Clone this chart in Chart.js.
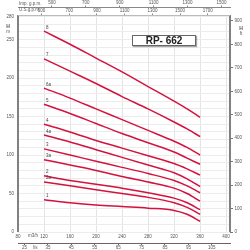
<!DOCTYPE html>
<html lang="en">
<head>
<meta charset="UTF-8">
<title>RP-662 pump curves</title>
<script src="https://cdn.jsdelivr.net/npm/chart.js"></script>
<style>
  html, body { margin: 0; padding: 0; background: #fff; }
  canvas { display: block; }
</style>
</head>
<body>
<canvas id="pumpChart" width="250" height="250"></canvas>
<script>
// flow points (m3/h) shared by every curve
const flowM3h = [120, 160, 200, 240, 280, 320, 340, 360];

// head (m) for each impeller stage
const head8  = [261, 244, 226, 208, 189, 170, 160, 149];
const head7  = [225, 209, 193, 176, 160, 143, 134, 124];
const head6a = [187, 174, 160, 146, 132, 118, 110, 100];
const head5  = [166, 154, 141, 128, 116, 104, 96, 88];
const head4  = [140, 130, 119, 109, 99, 89, 82, 74];
const head4a = [126, 117, 107, 97, 87, 77, 69, 59];
const head3  = [108, 100, 92, 84, 76, 67, 60, 51];
const head3a = [94, 87, 80, 72, 65, 57, 50, 40];
const head2  = [73, 67, 62, 57, 51, 44, 38, 29];
const head2a = [65, 60, 55, 50, 45, 38, 32, 23];
const head1  = [42, 38, 35, 33, 31, 28, 23, 14];

const curveNames = ['8', '7', '6a', '5', '4', '4a', '3', '3a', '2', '2a', '1'];
const curveHeads = [head8, head7, head6a, head5, head4, head4a, head3, head3a, head2, head2a, head1];

// axis tick labels
const flowTicks = [80, 120, 160, 200, 240, 280, 320, 360, 400];
const lsTicks = [25, 35, 45, 55, 65, 75, 85, 95, 105];
const usTicks = [500, 700, 900, 1100, 1300, 1500, 1700];
const impTicks = [500, 700, 900, 1100, 1300, 1500];
const headTicks = [0, 50, 100, 150, 200, 250, 280];
const ftTicks = [0, 100, 200, 300, 400, 500, 600, 700, 800, 900];

const FLOW_MIN = 80, FLOW_MAX = 406;
const HEAD_MAX = 282;
const FONT = '"Liberation Sans", Arial, sans-serif';
const RED = '#d3133f';
const GREY_TXT = '#555';

function fixTicks(values) {
  return scale => { scale.ticks = values.map(v => ({ value: v })); };
}
function fixSize(prop, size) {
  return scale => { scale[prop] = size; };
}
const plain = v => String(v);

const datasets = curveNames.map((name, i) => ({
  label: name,
  data: flowM3h.map((q, j) => ({ x: q, y: curveHeads[i][j] })),
  borderColor: RED,
  borderWidth: 1.5,
  pointRadius: 0,
  fill: false,
  cubicInterpolationMode: 'monotone'
}));

const smallTick = { size: 4.5, family: FONT };

// curve names, frame, title box and axis captions
const decorations = {
  id: 'decorations',
  afterDatasetsDraw(chart) {
    const { ctx, chartArea: a, scales } = chart;
    ctx.save();
    // curve labels near the first point
    ctx.fillStyle = '#444';
    ctx.font = '4.5px ' + FONT;
    ctx.textAlign = 'left';
    ctx.textBaseline = 'bottom';
    curveNames.forEach((name, i) => {
      const px = scales.x.getPixelForValue(flowM3h[0]) + 2;
      const py = scales.y.getPixelForValue(curveHeads[i][0]) - 1.5;
      ctx.fillText(name, px, py);
    });
    // frame
    ctx.strokeStyle = '#808080';
    ctx.lineWidth = 2;
    ctx.beginPath();
    ctx.moveTo(a.left, a.top); ctx.lineTo(a.left, a.bottom);
    ctx.moveTo(a.right, a.top); ctx.lineTo(a.right, a.bottom);
    ctx.stroke();
    ctx.lineWidth = 1;
    ctx.strokeStyle = '#bbb';
    ctx.beginPath();
    ctx.moveTo(a.left, a.top + 0.5); ctx.lineTo(a.right, a.top + 0.5);
    ctx.stroke();
    // model box
    ctx.fillStyle = '#fff';
    ctx.shadowColor = 'rgba(0,0,0,0.35)';
    ctx.shadowOffsetX = 1; ctx.shadowOffsetY = 1; ctx.shadowBlur = 1;
    ctx.fillRect(132, 35, 64, 11);
    ctx.shadowColor = 'transparent';
    ctx.strokeStyle = '#666';
    ctx.strokeRect(132.5, 35.5, 63, 10);
    ctx.fillStyle = '#222';
    ctx.font = 'bold 10px ' + FONT;
    ctx.textAlign = 'center';
    ctx.textBaseline = 'middle';
    ctx.fillText('RP- 662', 164, 41);
    // axis captions
    ctx.fillStyle = GREY_TXT;
    ctx.font = '4.5px ' + FONT;
    ctx.textAlign = 'left';
    ctx.fillText('Imp. g.p.m.', 19, 3.5);
    ctx.fillText('U.S.g.p.m.', 19, 10);
    ctx.fillText('m3/h', 28, 236);
    ctx.fillText('l/s', 33, 247.5);
    ctx.textAlign = 'center';
    ctx.font = 'bold 5px ' + FONT;
    ctx.fillText('H', 8, 27);
    ctx.fillText('H', 241, 29);
    ctx.font = '4.5px ' + FONT;
    ctx.fillText('m', 8, 32);
    ctx.fillText('ft', 241, 34);
    ctx.restore();
  }
};

new Chart(document.getElementById('pumpChart'), {
  type: 'line',
  data: { datasets },
  plugins: [decorations],
  options: {
    responsive: false,
    animation: false,
    devicePixelRatio: 1,
    layout: { padding: 0 },
    plugins: { legend: { display: false }, tooltip: { enabled: false } },
    scales: {
      x: {
        type: 'linear', position: 'bottom', weight: 0,
        min: FLOW_MIN, max: FLOW_MAX,
        afterBuildTicks: fixTicks(flowTicks),
        afterFit: fixSize('height', 11),
        grid: { color: '#e4e4e4', drawTicks: false, tickLength: 0 },
        border: { display: false },
        ticks: { font: smallTick, color: GREY_TXT, padding: 2, maxRotation: 0, autoSkip: false, callback: plain }
      },
      xLs: {
        type: 'linear', position: 'bottom', weight: 1,
        min: FLOW_MIN / 3.6, max: FLOW_MAX / 3.6,
        afterBuildTicks: fixTicks(lsTicks),
        afterFit: fixSize('height', 7),
        grid: { drawOnChartArea: false, tickLength: 2, color: '#666' },
        border: { display: true, color: '#666', width: 1 },
        ticks: { font: smallTick, color: GREY_TXT, padding: 0, maxRotation: 0, autoSkip: false, callback: plain }
      },
      xUs: {
        type: 'linear', position: 'top', weight: 0,
        min: 330, max: 1860,
        afterBuildTicks: fixTicks(usTicks),
        afterFit: fixSize('height', 8),
        grid: { drawOnChartArea: false, tickLength: 1.5, color: '#888' },
        border: { display: false },
        ticks: { font: smallTick, color: GREY_TXT, padding: 0.5, maxRotation: 0, autoSkip: false, callback: plain }
      },
      xImp: {
        type: 'linear', position: 'top', weight: 1,
        min: 300, max: 1550,
        afterBuildTicks: fixTicks(impTicks),
        afterFit: fixSize('height', 7),
        grid: { drawOnChartArea: false, tickLength: 1.5, color: '#888' },
        border: { display: true, color: '#888', width: 1 },
        ticks: { font: smallTick, color: GREY_TXT, padding: 0.5, maxRotation: 0, autoSkip: false, callback: plain }
      },
      y: {
        type: 'linear', position: 'left',
        min: 0, max: HEAD_MAX,
        afterBuildTicks: scale => {
          const t = [];
          for (let v = 0; v <= 280; v += 10) t.push({ value: v });
          scale.ticks = t;
        },
        afterFit: fixSize('width', 18),
        grid: { color: '#ececec', drawTicks: false, tickLength: 0 },
        border: { display: false },
        ticks: {
          font: smallTick, color: GREY_TXT, padding: 4, autoSkip: false,
          callback: v => headTicks.includes(v) ? String(v) : ''
        }
      },
      yFt: {
        type: 'linear', position: 'right',
        min: 0, max: HEAD_MAX * 3.28084,
        afterBuildTicks: fixTicks(ftTicks),
        afterFit: fixSize('width', 20),
        grid: { drawOnChartArea: false, tickLength: 3, color: '#777' },
        border: { display: false },
        ticks: { font: smallTick, color: GREY_TXT, padding: 1.5, autoSkip: false, callback: plain }
      }
    }
  }
});
</script>
</body>
</html>
